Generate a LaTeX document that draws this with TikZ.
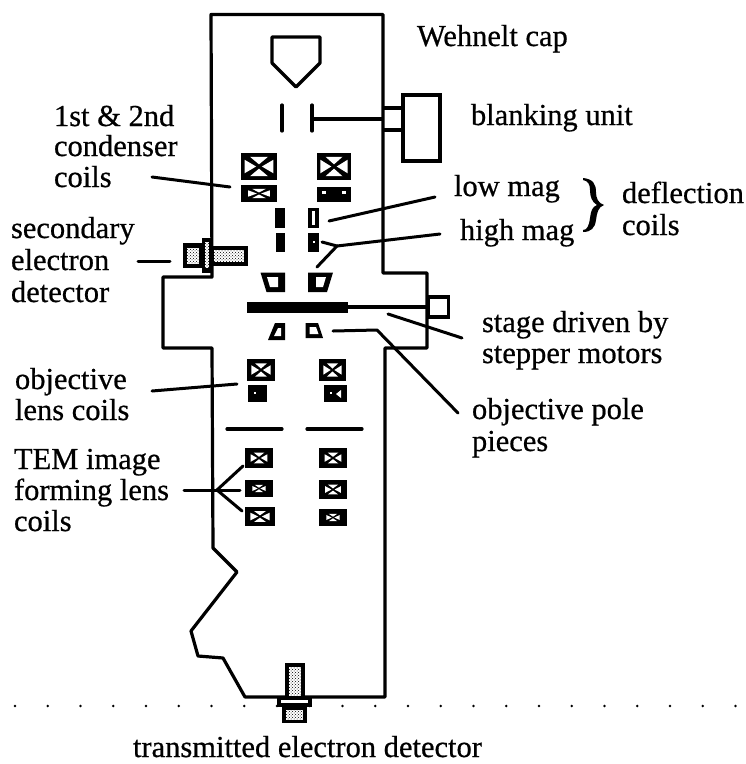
\documentclass[tikz,border=0pt]{standalone}
\usepackage{fontspec}
\setmainfont[RawFeature={embolden=0.6}]{Liberation Serif}
\usetikzlibrary{patterns}
\tikzset{
  wall/.style={line width=3.2pt,line join=round},
  leader/.style={line width=3pt,line cap=round},
  lbl/.style={anchor=base west,inner sep=0pt,outer sep=0pt,font=\fontsize{30.5}{32}\selectfont},
}
% coil: left x, top y, right x, bottom y, size of the white triangles
\newcommand{\coilX}[5]{%
  \fill[black] (#1,#2) rectangle (#3,#4);
  \pgfmathsetmacro{\coilw}{(#3-#1)/2*#5}%
  \pgfmathsetmacro{\coilh}{(#4-#2)/2*#5}%
  \begin{scope}[shift={({(#1+#3)/2},{(#2+#4)/2})},x=\coilw pt,y=\coilh pt]
    \fill[white] (-.5,.72)--(.5,.72)--(0,.16)--cycle;
    \fill[white] (-.5,-.72)--(.5,-.72)--(0,-.16)--cycle;
    \fill[white] (-.8,.5)--(-.8,-.5)--(-.16,0)--cycle;
    \fill[white] (.8,.5)--(.8,-.5)--(.16,0)--cycle;
  \end{scope}
}
\begin{document}
\begin{tikzpicture}[x=1pt,y=-1pt]
\useasboundingbox (0,0) rectangle (746,764);
% column outline
\coordinate (o1) at (211,14.5);
\coordinate (o2) at (383,14.5);
\coordinate (o3) at (383,273);
\coordinate (o4) at (427,273);
\coordinate (o5) at (427,348);
\coordinate (o6) at (385,348);
\coordinate (o7) at (385,697);
\coordinate (o8) at (245,697);
\coordinate (o9) at (223,658);
\coordinate (o10) at (198,656);
\coordinate (o11) at (191,631);
\coordinate (o12) at (237,572);
\coordinate (o13) at (213,548);
\coordinate (o14) at (212,348);
\coordinate (o15) at (163,348);
\coordinate (o16) at (163,277);
\coordinate (o17) at (212,277);
\draw[wall] (o1)--(o2)--(o3)--(o4)--(o5)--(o6)--(o7)--(o8)--(o9)--(o10)--(o11)--(o12)--(o13)--(o14)--(o15)--(o16)--(o17)--cycle;
% Wehnelt cap
\draw[wall] (272,37)--(320,37)--(320,63)--(296,87)--(272,63)--cycle;
% blanking
\draw[wall,line cap=round] (282,105)--(282,131);
\draw[wall,line cap=round] (312,105)--(312,131);
\coordinate (blA) at (312,119);
\coordinate (blB) at (383,119);
\draw[wall] (blA)--(blB);
\node[draw,line width=3.2pt,minimum width=37pt,minimum height=66pt,inner sep=0pt] (blank) at (421.5,128) {};
\draw[wall] (383,108)--(404,108);
\draw[wall] (383,130)--(404,130);
% condenser coils
\coilX{241}{153}{277}{180}{1}
\coilX{317}{153}{351}{180}{1}
\coilX{241}{185}{277}{202}{.75}
\fill[black] (317,187) rectangle (351,202);
\fill[white] (322,191) rectangle (326,194);
\fill[white] (342,191) rectangle (346,194);
% deflection coils
\fill[black] (275,208) rectangle (285,228);
\fill[black] (276,233) rectangle (285,252);
\fill[black] (308,208) rectangle (319,228);
\fill[white] (312,211) rectangle (315,225);
\fill[black] (308,233) rectangle (319,252);
\fill[white] (313,241) rectangle (314.5,243);
% secondary detector
\fill[black] (183,243) rectangle (203,268);
\fill[white] (187,248) rectangle (199,264);
\fill[pattern=crosshatch dots,pattern color=black] (187,248) rectangle (199,264);
\fill[black] (212,246) rectangle (248,266);
\fill[white] (214,250) rectangle (244,262);
\fill[pattern=crosshatch dots,pattern color=black] (214,250) rectangle (244,262);
\fill[black] (202,238) rectangle (213,273);
\fill[white] (205,242) rectangle (209,268);
\fill[pattern=crosshatch dots,pattern color=black] (205,242) rectangle (209,268);
% upper pole pieces
\fill[black] (260.5,272.5)--(285,272.5)--(285,292)--(266.5,292)--cycle;
\fill[white] (267,277)--(278,277)--(278,287)--(270,287)--cycle;
\fill[black] (308,272.5)--(333,272.5)--(327,292)--(308,292)--cycle;
\fill[white] (316,277)--(326,277)--(323,287)--(316,287)--cycle;
% stage
\fill[black] (247,302) rectangle (348,313);
\node[draw,line width=3.2pt,minimum width=20pt,minimum height=20pt,inner sep=0pt,anchor=west] (stbox) at (427,307) {};
\coordinate (stA) at (348,307);
\draw[wall] (stA)--(stbox.west);
% lower pole pieces
\fill[black] (268,340)--(275,323)--(285,323)--(285,340)--cycle;
\fill[white] (274,336)--(278,328)--(281,328)--(281,336)--cycle;
\fill[black] (305.5,323)--(318,323)--(323,338)--(305.5,338)--cycle;
\fill[white] (309.5,327)--(316,327)--(318.5,334)--(309.5,334)--cycle;
% objective coils
\coilX{247}{359}{275}{381}{.85}
\coilX{319}{359}{346}{381}{.85}
\fill[black] (248,385) rectangle (267,402);
\fill[white] (254,392) rectangle (256,394);
\fill[black] (324,385) rectangle (347,402);
\fill[white] (341,390)--(341,398)--(336,394)--cycle;
\fill[white] (330,392) rectangle (332,394);
% aperture lines
\draw[wall,line cap=round] (227,429)--(282,429);
\draw[wall,line cap=round] (307,429)--(362,429);
% TEM coils
\coilX{245}{448}{273}{468}{.75}
\coilX{245}{480}{273}{497}{.6}
\coilX{245}{507}{275}{526}{.8}
\coilX{319}{448}{347}{468}{.75}
\coilX{319}{480}{347}{499}{.7}
\coilX{319}{509}{347}{526}{.6}
% bottom detector
\fill[black] (285,663) rectangle (305,699);
\fill[white] (289,667) rectangle (301,696);
\fill[pattern=crosshatch dots,pattern color=black] (289,667) rectangle (301,696);
\fill[black] (282,706) rectangle (307,723);
\fill[white] (286,710) rectangle (303,720);
\fill[pattern=crosshatch dots,pattern color=black] (286,710) rectangle (303,720);
\fill[black] (277,697) rectangle (312,707);
\fill[white] (281,700) rectangle (308,703);
% dots
\foreach \i in {0,...,22} \fill[black] ({15+32.75*\i},706) circle (1.4pt);
% leaders
\draw[leader] (152,177)--(230,187);
\draw[leader] (329,221)--(435,197);
\draw[leader] (440,234)--(337,246);
\draw[leader] (322,242)--(337,246)--(317,267);
\draw[leader] (138,261)--(170,261);
\draw[leader] (388,314)--(462,338);
\draw[leader,line join=round] (333,331)--(377,330)--(458,413);
\draw[leader] (152,391)--(237,384);
\draw[leader] (184,490)--(240,490);
\draw[leader] (243,466)--(217,490)--(242,511);
% brace
\fill[black] (583,178) .. controls (593,179) and (596,184) .. (596,192) .. controls (596,198) and (598,203) .. (604,205) .. controls (598,207) and (597,213) .. (596,220) .. controls (595,228) and (591,232) .. (583,232) -- (583,230) .. controls (587,230) and (589,226) .. (590,218) .. controls (591,211) and (592,207) .. (597,205) .. controls (592,202) and (590,197) .. (590,190) .. controls (590,184) and (588,181) .. (583,180) -- cycle;
% labels
\node[lbl] (t1) at (417,46) {Wehnelt cap};
\node[lbl] (t2) at (471,125) {blanking unit};
\node[lbl] (t3) at (54,126) {1st \& 2nd};
\node[lbl] (t4) at (54,156) {condenser};
\node[lbl] (t5) at (54,187) {coils};
\node[lbl] (t6) at (454,196) {low mag};
\node[lbl] (t7) at (460,240) {high mag};
\node[lbl] (t8) at (622,203) {deflection};
\node[lbl] (t9) at (622,235) {coils};
\node[lbl] (t10) at (11,238) {secondary};
\node[lbl] (t11) at (11,270) {electron};
\node[lbl] (t12) at (11,302) {detector};
\node[lbl] (t13) at (482,332) {stage driven by};
\node[lbl] (t14) at (482,363) {stepper motors};
\node[lbl] (t15) at (472,419) {objective pole};
\node[lbl] (t16) at (472,451) {pieces};
\node[lbl] (t17) at (15,389) {objective};
\node[lbl] (t18) at (15,420) {lens coils};
\node[lbl] (t19) at (14,469) {TEM image};
\node[lbl] (t20) at (14,500) {forming lens};
\node[lbl] (t21) at (14,531) {coils};
\node[lbl] (t22) at (133,757) {transmitted electron detector};
\end{tikzpicture}
\end{document}
